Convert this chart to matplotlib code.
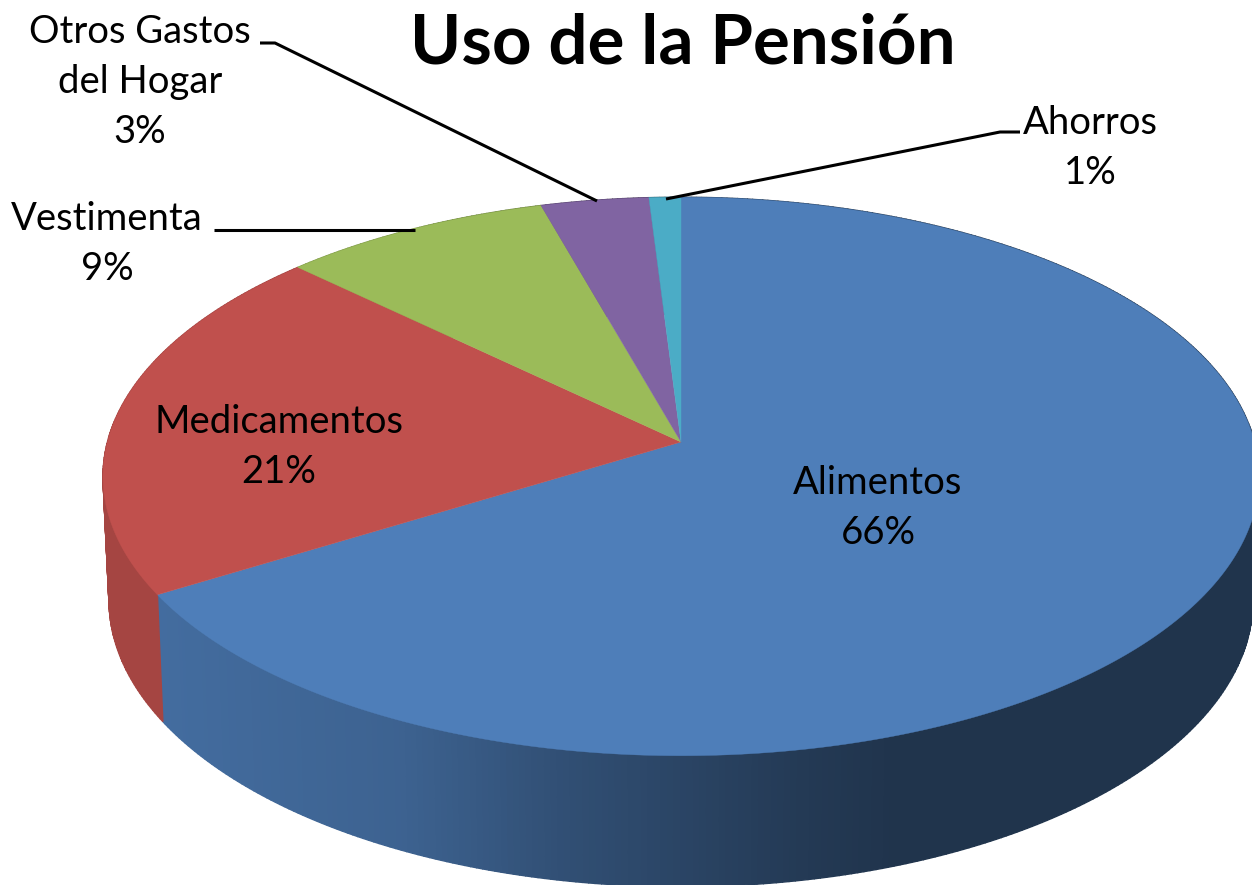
import numpy as np
import matplotlib
matplotlib.use('Agg')
import matplotlib.pyplot as plt

# Pie data, clockwise from 12 o'clock

names = ['Alimentos', 'Medicamentos', 'Vestimenta', 'Otros Gastos\ndel Hogar', 'Ahorros']
values = [66.3, 20.8, 8.5, 3.4, 1.0]
colors = ['#4E7EB9', '#C0504D', '#9BBB59', '#8064A2', '#4BACC6']
title = 'Uso de la Pensión'

# label centres and leader lines, in picture pixels

label_pos = [(878, 508), (279, 447), (107, 244), (140, 82), (1090, 148)]
leaders = [None, None,
           [(214, 230), (415, 230)],
           [(260, 43), (275, 43), (597, 201)],
           [(1020, 132), (1000, 132), (666, 199)]]

# perspective of the disc: top face and bottom face

top_face = dict(cx=681, apex_y=442, bx=573.6, ay=275.0)
bottom_face = dict(cx=681, apex_y=565, bx=567.6, ay=282.0)
persp = 0.1234

# darkening of the side wall from left to right

shade_x = [157, 400, 560, 800, 900]
shade_k = [0.86, 0.78, 0.63, 0.46, 0.41]


def project(theta, face):
    u, v = np.sin(theta), np.cos(theta)
    w = 1 + persp * v
    return face['cx'] + face['bx'] * u / w, face['apex_y'] - face['ay'] * v / w


plt.rcParams['font.family'] = ['Lato', 'DejaVu Sans']

fig = plt.figure(figsize=(12.52, 8.85), dpi=100)
ax = fig.add_axes([0, 0, 1, 1])
ax.set_xlim(0, 1252)
ax.set_ylim(885, 0)
ax.axis('off')

edges = 2 * np.pi * np.cumsum([0] + values) / sum(values)

# side wall first, cut in thin strips for the gradient

for i in range(len(values)):
    n = max(int((edges[i + 1] - edges[i]) * 100), 2)
    ang = np.linspace(edges[i], edges[i + 1], n + 1)
    base = np.array(matplotlib.colors.to_rgb(colors[i]))
    for a0, a1 in zip(ang[:-1], ang[1:]):
        x0, y0 = project(np.array([a0, a1]), top_face)
        x1, y1 = project(np.array([a1, a0]), bottom_face)
        k = np.interp((x0[0] + x0[1]) / 2, shade_x, shade_k)
        ax.fill(np.r_[x0, x1], np.r_[y0, y1], color=base * k, lw=1, zorder=1)

# top face

for i in range(len(values)):
    ang = np.linspace(edges[i], edges[i + 1], 300)
    x, y = project(ang, top_face)
    ax.fill(np.r_[top_face['cx'], x], np.r_[top_face['apex_y'], y], color=colors[i], lw=0.3, zorder=2)

# labels

for name, val, pos in zip(names, values, label_pos):
    ax.text(pos[0], pos[1], name + '\n%d%%' % int(val + 0.5), ha='center', va='center',
            fontsize=27.5, linespacing=1.47, color='k', zorder=4)

for line in leaders:
    if line is not None:
        xs, ys = zip(*line)
        ax.plot(xs, ys, color='k', lw=2.2, solid_capstyle='butt', zorder=3)

ax.text(683, 44, title, ha='center', va='center', fontsize=49.8, fontweight='bold', color='k', zorder=4)

plt.savefig('out.png', dpi=100)
